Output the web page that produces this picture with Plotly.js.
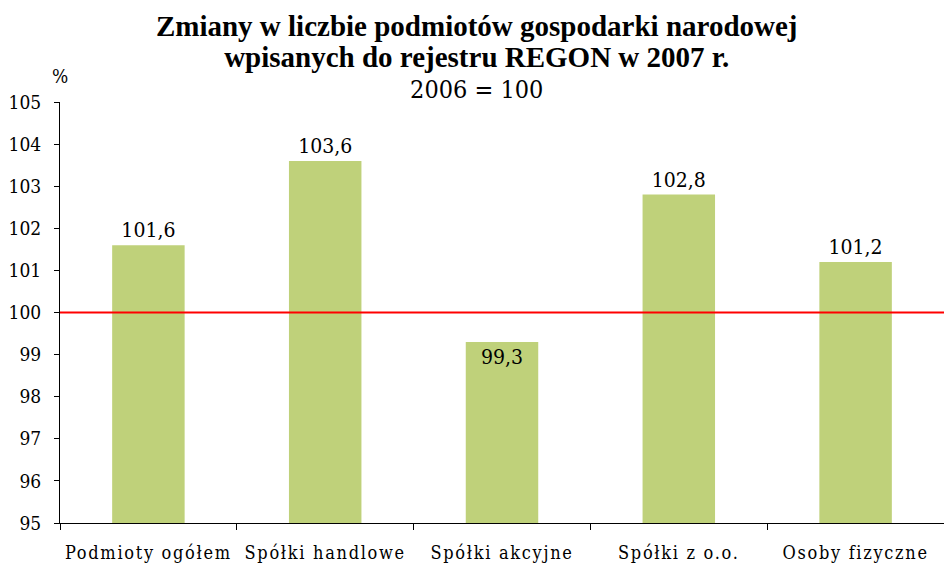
<!DOCTYPE html>
<html>
<head>
<meta charset="utf-8">
<script src="https://cdn.plot.ly/plotly-3.0.1.min.js"></script>
<style>
html,body{margin:0;padding:0;background:#fff;}
#chart{width:944px;height:564px;}
.js-plotly-plot .xtick text{letter-spacing:1.7px;}
</style>
</head>
<body>
<div id="chart"></div>
<script>
var categories = ["Podmioty ogółem", "Spółki handlowe", "Spółki akcyjne", "Spółki z o.o.", "Osoby fizyczne"];
var values = [101.6, 103.6, 99.3, 102.8, 101.2];
var labels = ["101,6", "103,6", "99,3", "102,8", "101,2"];
var yTicks = [95, 96, 97, 98, 99, 100, 101, 102, 103, 104, 105];
var referenceLevel = 100;

var serifBold = "Liberation Serif";
var serif = "DejaVu Serif Condensed, DejaVu Serif";

var trace = {
  type: "bar",
  x: categories,
  y: values,
  text: labels,
  textposition: values.map(function(v){ return v < referenceLevel ? "inside" : "outside"; }),
  insidetextanchor: "end",
  textangle: 0,
  textfont: {family: serif, size: 21, color: "#000"},
  insidetextfont: {family: serif, size: 21, color: "#000"},
  outsidetextfont: {family: serif, size: 21, color: "#000"},
  marker: {color: "#BFD17A", line: {width: 0}},
  cliponaxis: false,
  hoverinfo: "none"
};

var layout = {
  width: 944,
  height: 564,
  margin: {l: 60, r: 0, t: 102, b: 41, pad: 0},
  paper_bgcolor: "#fff",
  plot_bgcolor: "#fff",
  showlegend: false,
  bargap: 0.59,
  font: {family: serif, color: "#000"},
  title: {
    text: "<span style='font-size:29px;font-family:" + serifBold + "'><b>Zmiany w liczbie podmiotów gospodarki narodowej</b></span><br><span style='font-size:29px;font-family:" + serifBold + "'><b>wpisanych do rejestru REGON w 2007 r.</b></span><br><span style='font-size:25px'>2006 = 100</span>",
    font: {family: serif, size: 24, color: "#000"},
    x: 0.505, xanchor: "center",
    yref: "container",
    y: 0.936, yanchor: "top"
  },
  xaxis: {
    type: "category",
    showgrid: false,
    showline: true,
    linecolor: "#000",
    linewidth: 1,
    ticks: "outside",
    tickson: "boundaries",
    ticklen: 6,
    tickcolor: "#000",
    tickfont: {family: serif, size: 18, color: "#000"},
    tickangle: 0,
    ticklabelstandoff: 13,
    zeroline: false,
    fixedrange: true
  },
  yaxis: {
    range: [95, 105],
    tickvals: yTicks,
    ticktext: yTicks.map(String),
    showgrid: false,
    showline: true,
    linecolor: "#000",
    linewidth: 1,
    ticks: "outside",
    ticklen: 5,
    tickcolor: "#000",
    tickfont: {family: serif, size: 19, color: "#000"},
    ticklabelstandoff: 9,
    zeroline: false,
    fixedrange: true
  },
  shapes: [{
    type: "line",
    xref: "paper", x0: 0, x1: 1,
    yref: "y", y0: referenceLevel, y1: referenceLevel,
    line: {color: "#FF0000", width: 2}
  }],
  annotations: [{
    text: "%",
    xref: "paper", yref: "paper",
    x: 0, y: 1,
    xanchor: "center", yanchor: "bottom",
    yshift: 13,
    showarrow: false,
    font: {family: serif, size: 19, color: "#000"}
  }]
};

Plotly.newPlot("chart", [trace], layout, {displayModeBar: false, staticPlot: true});
</script>
</body>
</html>
